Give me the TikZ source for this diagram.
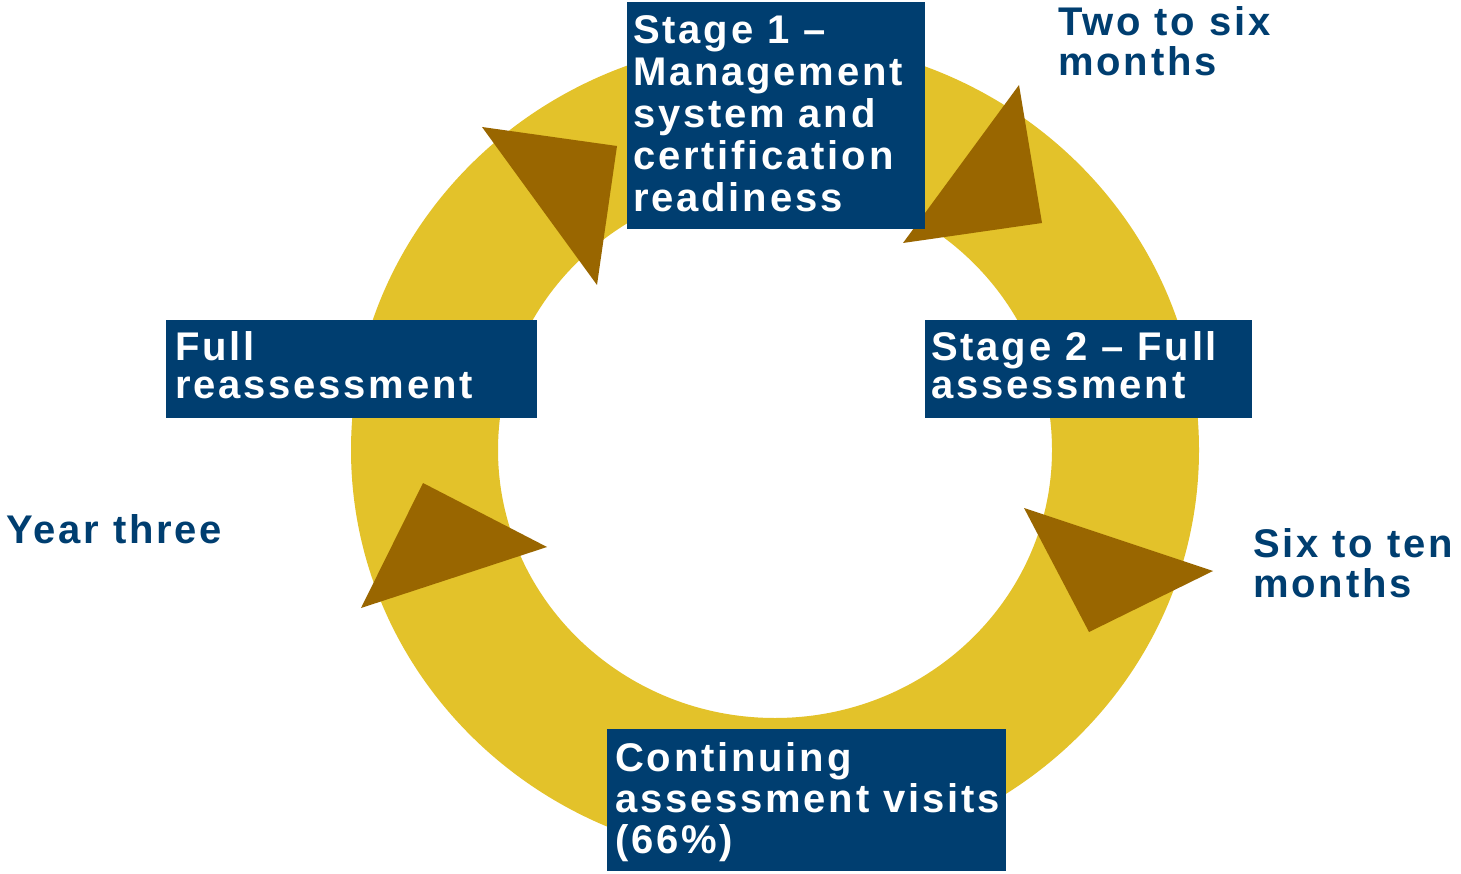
\documentclass[tikz,border=0pt]{standalone}
\usepackage{fontspec}
\setmainfont{Liberation Sans}[LetterSpace=7,Ligatures=NoCommon]
\definecolor{navy}{RGB}{0,62,112}
\definecolor{ringgold}{RGB}{227,194,42}
\definecolor{arrowbrown}{RGB}{153,102,0}

\newcommand{\capstrut}{\rule{0pt}{30pt}}

\begin{document}
\begin{tikzpicture}[x=1pt,y=-1pt,
  stagebox/.style={fill=navy, draw=none, anchor=north west, inner sep=0pt},
  boxtext/.style={anchor=north west, inner sep=0pt, align=left, text=white,
    font=\fontsize{40}{#1}\selectfont\bfseries},
  sidetext/.style={anchor=north west, inner sep=0pt, align=left, text=navy,
    font=\fontsize{40}{40}\selectfont\bfseries},
  pointer/.style={fill=arrowbrown, draw=none}]

\useasboundingbox (0,0) rectangle (1461,874);

% the cycle ring
\fill[ringgold, even odd rule]
  (775,450) ellipse [x radius=424pt, y radius=410pt]
  (775,450) ellipse [x radius=277pt, y radius=268pt];

% direction pointers on the ring
\fill[pointer] (482,127) -- (617,146) -- (597,285) -- cycle;
\fill[pointer] (1019,85) -- (1042,223) -- (903,243) -- cycle;
\fill[pointer] (1024,508) -- (1213,571) -- (1089,632) -- cycle;
\fill[pointer] (423,483) -- (547,547) -- (361,608) -- cycle;

% stage boxes
\node[stagebox, minimum width=298pt, minimum height=227pt] (s1box) at (627,2) {};
\node[stagebox, minimum width=371pt, minimum height=98pt] (frbox) at (166,320) {};
\node[stagebox, minimum width=327pt, minimum height=98pt] (s2box) at (925,320) {};
\node[stagebox, minimum width=399pt, minimum height=142pt] (cabox) at (607,729) {};

% box texts
\node[boxtext=42] (s1) at (633,13)
  {\capstrut Stage 1 –\\Management\\system and\\certification\\readiness};
\node[boxtext=38] (fr) at (175,330)
  {\capstrut Full\\reassessment};
\node[boxtext=38] (s2) at (931,330)
  {\capstrut Stage 2 – Full\\assessment};
\node[boxtext=41] (ca) at (615,741)
  {\capstrut Continuing\\assessment visits\\(66\%)};

% timing labels
\node[sidetext] (t1) at (1058,5) {\capstrut Two to six\\months};
\node[sidetext] (t2) at (1253,527) {\capstrut Six to ten\\months};
\node[sidetext] (t3) at (6,513) {\capstrut Year three};

\end{tikzpicture}
\end{document}
